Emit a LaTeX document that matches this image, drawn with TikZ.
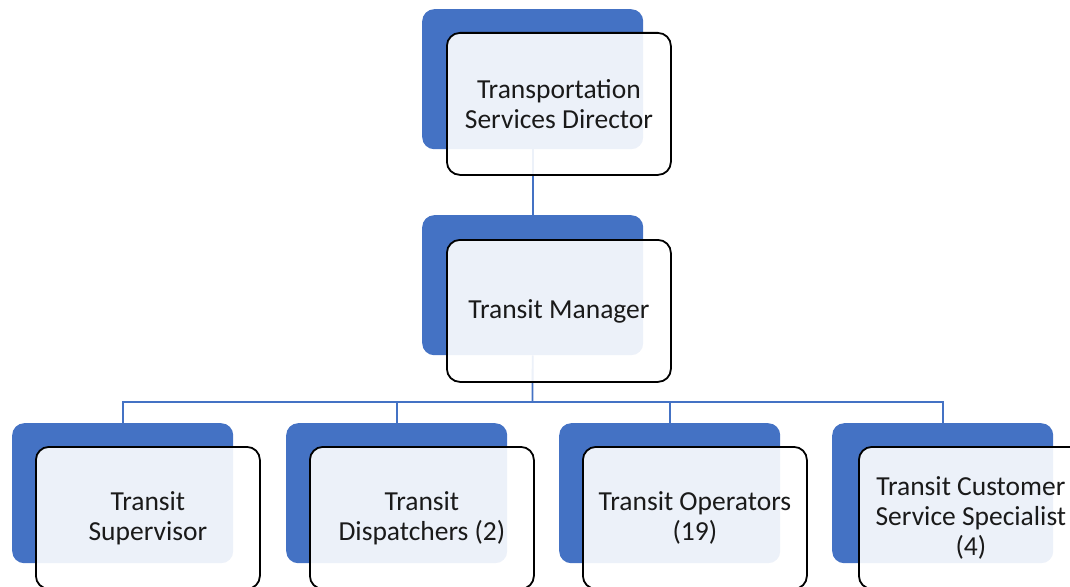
\documentclass[tikz,border=0pt]{standalone}
\usepackage{fontspec}
\setmainfont{Carlito}
\definecolor{accent}{HTML}{4472C4}
\definecolor{txt}{HTML}{1A1A1A}
\begin{document}
\begin{tikzpicture}[x=1pt,y=-1pt,
  back/.style={fill=accent, draw=none, rounded corners=12pt, minimum width=221pt, minimum height=140pt, inner sep=0pt, anchor=north west},
  front/.style={fill=white, fill opacity=0.9, text opacity=1, draw=black, line width=1.8pt, rounded corners=13pt, minimum width=224pt, minimum height=142pt, inner sep=0pt, anchor=north west, text=txt, align=center, font=\fontsize{27.5}{30}\selectfont},
  link/.style={draw=accent, line width=1.8pt}]
\useasboundingbox (0,0) rectangle (1070,586);
\clip (0,0) rectangle (1070,586);
% back (blue) boxes
\node[back] (b1) at (422,9) {};
\node[back] (b2) at (422,215) {};
\node[back] (b3) at (12,423) {};
\node[back] (b4) at (286,423) {};
\node[back] (b5) at (559,423) {};
\node[back] (b6) at (832,423) {};
% connectors
\coordinate (bus) at (532.5,402);
\draw[link] (b1.south) -- (b2.north);
\draw[link] (b2.south) -- (bus);
\draw[link] (bus) -| (b3.north);
\draw[link] (bus) -| (b4.north);
\draw[link] (bus) -| (b5.north);
\draw[link] (bus) -| (b6.north);
% front boxes
\node[front] (f1) at (446,32) {Transportation\\Services Director};
\node[front] (f2) at (446,239) {Transit Manager};
\node[front] (f3) at (35,446) {Transit\\Supervisor};
\node[front] (f4) at (309,446) {Transit\\Dispatchers (2)};
\node[front] (f5) at (582,446) {Transit Operators\\(19)};
\node[front] (f6) at (858,446) {Transit Customer\\Service Specialist\\(4)};
\end{tikzpicture}
\end{document}
